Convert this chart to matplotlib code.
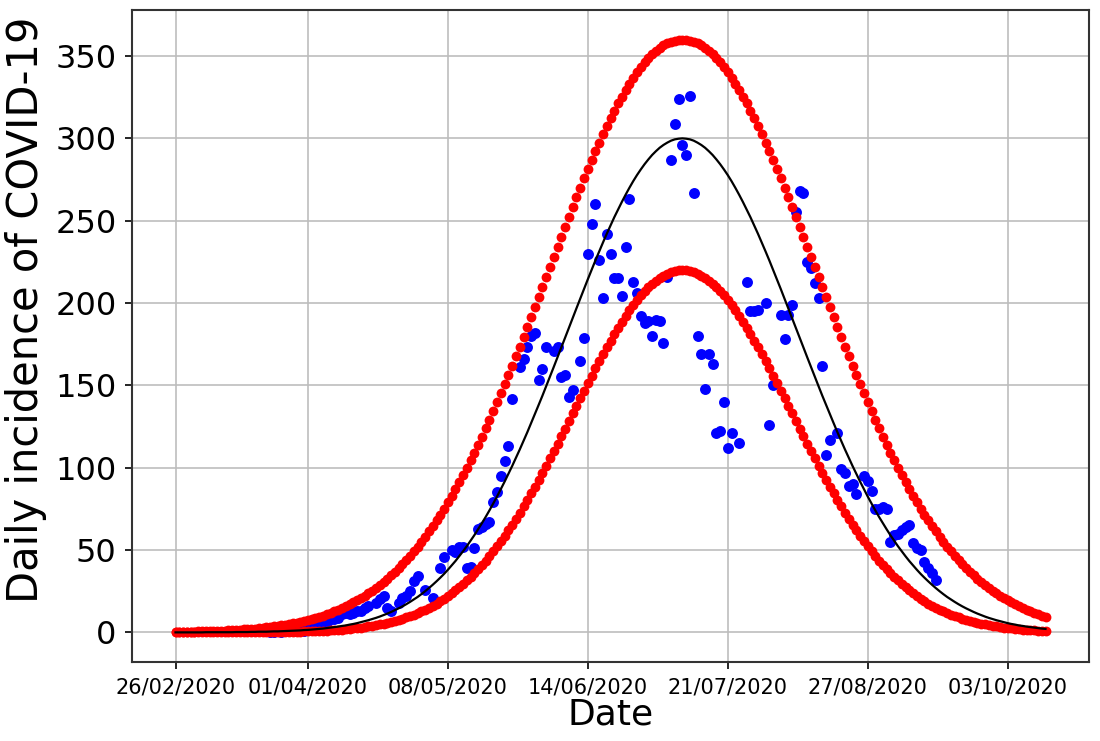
import matplotlib
matplotlib.use("Agg")
import matplotlib.pyplot as plt
import numpy as np

# ---------------- data ----------------
start_date = np.datetime64("2020-02-26")

# upper bound (red), one value per day from 26/02/2020
upper = [
    0.3, 0.3, 0.4, 0.4, 0.5, 0.5, 0.6, 0.6, 0.7, 0.8,
    0.8, 0.9, 1.0, 1.1, 1.2, 1.3, 1.5, 1.6, 1.8, 2.0,
    2.1, 2.3, 2.6, 2.8, 3.0, 3.3, 3.6, 3.9, 4.3, 4.6,
    5.0, 5.5, 5.9, 6.4, 7.0, 7.5, 8.1, 8.8, 9.5, 10.2,
    11.0, 11.9, 12.8, 13.7, 14.7, 15.8, 17.0, 18.2, 19.5, 20.8,
    22.2, 23.8, 25.4, 27.0, 28.8, 30.7, 32.6, 34.7, 36.9, 39.1,
    41.5, 44.0, 46.6, 49.3, 52.1, 55.0, 58.1, 61.3, 64.6, 68.0,
    71.5, 75.2, 79.0, 82.9, 87.0, 91.2, 95.5, 99.9, 104.5, 109.1,
    113.9, 118.9, 123.9, 129.0, 134.3, 139.6, 145.1, 150.6, 156.2, 161.9,
    167.7, 173.6, 179.5, 185.5, 191.5, 197.6, 203.6, 209.8, 215.9, 222.0,
    228.2, 234.3, 240.4, 246.4, 252.4, 258.4, 264.2, 270.0, 275.7, 281.3,
    286.8, 292.2, 297.4, 302.5, 307.4, 312.2, 316.8, 321.2, 325.4, 329.4,
    333.2, 336.8, 340.1, 343.2, 346.1, 348.7, 351.0, 353.1, 354.9, 356.5,
    357.7, 358.7, 359.4, 359.9, 360.0,
    359.9, 359.4, 358.7, 357.7, 356.5,
    354.9, 353.1, 351.0, 348.7, 346.1, 343.2, 340.1, 336.8, 333.2, 329.4,
    325.4, 321.2, 316.8, 312.2, 307.4, 302.5, 297.4, 292.2, 286.8, 281.3,
    275.7, 270.0, 264.2, 258.4, 252.4, 246.4, 240.4, 234.3, 228.2, 222.0,
    215.9, 209.8, 203.6, 197.6, 191.5, 185.5, 179.5, 173.6, 167.7, 161.9,
    156.2, 150.6, 145.1, 139.6, 134.3, 129.0, 123.9, 118.9, 113.9, 109.1,
    104.5, 99.9, 95.5, 91.2, 87.0, 82.9, 79.0, 75.2, 71.5, 68.0,
    64.6, 61.3, 58.1, 55.0, 52.1, 49.3, 46.6, 44.0, 41.5, 39.1,
    36.9, 34.7, 32.6, 30.7, 28.8, 27.0, 25.4, 23.8, 22.2, 20.8,
    19.5, 18.2, 17.0, 15.8, 14.7, 13.7, 12.8, 11.9, 11.0, 10.2,
    9.5,
]

# lower bound (red)
lower = [
    0.0, 0.0, 0.0, 0.0, 0.0, 0.0, 0.0, 0.0, 0.0, 0.0,
    0.0, 0.0, 0.0, 0.0, 0.0,
    0.1, 0.1, 0.1, 0.1, 0.1, 0.1, 0.1, 0.1, 0.1,
    0.2, 0.2, 0.2, 0.2, 0.3, 0.3, 0.3, 0.4, 0.4, 0.5,
    0.6, 0.6, 0.7, 0.8, 0.9, 1.0, 1.1, 1.2, 1.4, 1.5,
    1.7, 1.9, 2.1, 2.4, 2.6, 2.9, 3.2, 3.6, 3.9, 4.3,
    4.8, 5.2, 5.8, 6.3, 6.9, 7.6, 8.3, 9.1, 9.9, 10.8,
    11.7, 12.7, 13.8, 15.0, 16.2, 17.5, 18.9, 20.4, 22.0, 23.7,
    25.5, 27.4, 29.4, 31.5, 33.7, 36.0, 38.4, 40.9, 43.6, 46.4,
    49.3, 52.3, 55.4, 58.6, 62.0, 65.5, 69.0, 72.7, 76.5, 80.4,
    84.4, 88.5, 92.7, 96.9, 101.3, 105.7, 110.1, 114.6, 119.2, 123.8,
    128.4, 133.0, 137.6, 142.2, 146.8, 151.3, 155.8, 160.3, 164.7, 169.0,
    173.2, 177.2, 181.2, 185.0, 188.7, 192.3, 195.6, 198.8, 201.8, 204.6,
    207.2, 209.6, 211.7, 213.6, 215.3, 216.7, 217.9, 218.8, 219.5, 219.9,
    220.0,
    219.9, 219.5, 218.8, 217.9, 216.7, 215.3, 213.6, 211.7, 209.6, 207.2,
    204.6, 201.8, 198.8, 195.6, 192.3, 188.7, 185.0, 181.2, 177.2, 173.2,
    169.0, 164.7, 160.3, 155.8, 151.3, 146.8, 142.2, 137.6, 133.0, 128.4,
    123.8, 119.2, 114.6, 110.1, 105.7, 101.3, 96.9, 92.7, 88.5, 84.4,
    80.4, 76.5, 72.7, 69.0, 65.5, 62.0, 58.6, 55.4, 52.3, 49.3,
    46.4, 43.6, 40.9, 38.4, 36.0, 33.7, 31.5, 29.4, 27.4, 25.5,
    23.7, 22.0, 20.4, 18.9, 17.5, 16.2, 15.0, 13.8, 12.7, 11.7,
    10.8, 9.9, 9.1, 8.3, 7.6, 6.9, 6.3, 5.8, 5.2, 4.8,
    4.3, 3.9, 3.6, 3.2, 2.9, 2.6, 2.4, 2.1, 1.9, 1.7,
    1.5, 1.4, 1.2, 1.1, 1.0, 0.9,
]

# fitted model (black line)
model = [
    0.0, 0.0, 0.0, 0.0, 0.0, 0.0, 0.0, 0.0,
    0.1, 0.1, 0.1, 0.1, 0.1, 0.1, 0.1, 0.1,
    0.2, 0.2, 0.2, 0.2, 0.3, 0.3, 0.4, 0.4, 0.4, 0.5,
    0.6, 0.6, 0.7, 0.8, 0.9, 1.0, 1.1, 1.2, 1.4, 1.5,
    1.7, 1.9, 2.1, 2.3, 2.6, 2.9, 3.2, 3.5, 3.9, 4.2,
    4.7, 5.1, 5.6, 6.2, 6.8, 7.4, 8.1, 8.8, 9.6, 10.5,
    11.4, 12.4, 13.5, 14.6, 15.8, 17.1, 18.5, 20.0, 21.5, 23.2,
    25.0, 26.9, 28.9, 31.0, 33.2, 35.5, 38.0, 40.6, 43.3, 46.2,
    49.2, 52.3, 55.6, 59.0, 62.6, 66.3, 70.1, 74.1, 78.3, 82.5,
    87.0, 91.5, 96.2, 101.0, 106.0, 111.0, 116.2, 121.5, 127.0, 132.5,
    138.1, 143.7, 149.5, 155.3, 161.2, 167.1, 173.0, 179.0, 184.9, 190.9,
    196.8, 202.7, 208.6, 214.4, 220.1, 225.8, 231.3, 236.7, 242.0, 247.1,
    252.1, 256.8, 261.4, 265.8, 270.0, 274.0, 277.7, 281.1, 284.3, 287.2,
    289.9, 292.2, 294.3, 296.0, 297.4, 298.6, 299.4, 299.8, 300.0,
    299.8, 299.4, 298.6, 297.4, 296.0, 294.3, 292.2, 289.9, 287.2, 284.3,
    281.1, 277.7, 274.0, 270.0, 265.8, 261.4, 256.8, 252.1, 247.1, 242.0,
    236.7, 231.3, 225.8, 220.1, 214.4, 208.6, 202.7, 196.8, 190.9, 184.9,
    179.0, 173.0, 167.1, 161.2, 155.3, 149.5, 143.7, 138.1, 132.5, 127.0,
    121.5, 116.2, 111.0, 106.0, 101.0, 96.2, 91.5, 87.0, 82.5, 78.3,
    74.1, 70.1, 66.3, 62.6, 59.0, 55.6, 52.3, 49.2, 46.2, 43.3,
    40.6, 38.0, 35.5, 33.2, 31.0, 28.9, 26.9, 25.0, 23.2, 21.5,
    20.0, 18.5, 17.1, 15.8, 14.6, 13.5, 12.4, 11.4, 10.5, 9.6,
    8.8, 8.1, 7.4, 6.8, 6.2, 5.6, 5.1, 4.7, 4.2, 3.9,
    3.5, 3.2, 2.9, 2.6, 2.3, 2.1,
]

# observed daily incidence (blue): day offset from 26/02/2020 and value
obs_day = [
    25, 26, 27, 28, 29, 30, 31, 32, 33, 34, 35, 36, 37, 38, 39, 40, 41, 42, 43, 44,
    45, 46, 47, 48, 49, 50, 51, 53, 54, 55, 56, 57, 59, 60, 61, 62, 63, 64, 66, 68,
    70, 71, 73, 74, 75, 76, 77, 78, 79, 80, 81, 82, 83, 84, 85, 86, 87, 88, 89, 91,
    92, 93, 94, 95, 96, 97, 98, 100, 101, 102, 103, 104, 105, 107, 108, 109, 110, 111, 112, 113,
    114, 115, 116, 117, 118, 119, 120, 121, 122, 123, 124, 125, 126, 127, 128, 129, 130, 131, 132, 133,
    134, 135, 136, 137, 138, 139, 140, 141, 142, 143, 144, 145, 146, 147, 149, 151, 152, 153, 154, 156,
    157, 158, 160, 161, 162, 163, 164, 165, 166, 167, 168, 169, 170, 171, 172, 173, 175, 176, 177, 178,
    179, 180, 182, 183, 184, 185, 186, 187, 188, 189, 190, 191, 192, 193, 194, 195, 196, 197, 198, 199,
    200, 201,
]
obs_val = [
    0, 0, 1, 0, 1, 1, 1, 1, 2, 1, 2, 3, 3, 4, 5, 6, 8, 8, 9, 11,
    12, 11, 12, 13, 13, 15, 16, 18, 20, 22, 15, 13, 18, 21, 22, 25, 31, 34, 26, 21,
    39, 46, 50, 49, 52, 52, 39, 40, 51, 63, 64, 66, 67, 79, 85, 95, 104, 113, 142, 161,
    166, 173, 180, 182, 153, 160, 173, 171, 173, 155, 156, 143, 147, 165, 179, 230, 248, 260, 226, 203,
    242, 230, 215, 215, 204, 234, 263, 213, 206, 192, 188, 189, 180, 190, 189, 176, 216, 287, 309, 324,
    296, 290, 326, 267, 180, 169, 148, 169, 163, 121, 122, 140, 112, 121, 115, 213, 195, 195, 196, 200,
    126, 150, 193, 178, 193, 199, 255, 268, 267, 225, 221, 212, 203, 162, 108, 117, 121, 99, 97, 89,
    90, 84, 95, 92, 86, 75, 75, 76, 75, 55, 59, 60, 62, 64, 65, 54, 51, 50, 43, 39,
    36, 32,
]

tick_dates = ["2020-02-26", "2020-04-01", "2020-05-08", "2020-06-14",
              "2020-07-21", "2020-08-27", "2020-10-03"]
tick_labels = ["26/02/2020", "01/04/2020", "08/05/2020", "14/06/2020",
               "21/07/2020", "27/08/2020", "03/10/2020"]

# ---------------- figure ----------------
fig = plt.figure(figsize=(11, 7.41), dpi=100)
ax = fig.add_axes([0.12, 0.1066, 0.87, 0.88])

days = start_date + np.arange(len(upper)).astype("timedelta64[D]")
obs_dates = start_date + np.array(obs_day).astype("timedelta64[D]")

ax.scatter(obs_dates, obs_val, s=62, color="blue", linewidths=0, zorder=2)
ax.scatter(days, upper, s=50, color="red", linewidths=0, zorder=3)
ax.scatter(days, lower, s=50, color="red", linewidths=0, zorder=3)
ax.plot(days, model, color="black", lw=1.6, zorder=4)

ax.set_xticks(np.array(tick_dates, dtype="datetime64[D]"))
ax.set_xticklabels(tick_labels)
ax.set_yticks([0, 50, 100, 150, 200, 250, 300, 350])

ax.grid(True, color="#bdbdbd", lw=1.2)
ax.set_axisbelow(True)

ax.tick_params(axis="y", labelsize=23, length=5, width=1.2, pad=6)
ax.tick_params(axis="x", labelsize=15, length=5, width=1.2, pad=6)
for s in ax.spines.values():
    s.set_linewidth(1.5)
    s.set_color("#333333")

ax.set_xlabel("Date", fontsize=26, labelpad=0)
ax.set_ylabel("Daily incidence of COVID-19", fontsize=30, labelpad=6)
ax.yaxis.label.set_y(0.54)

fig.savefig("out.png", dpi=100)
